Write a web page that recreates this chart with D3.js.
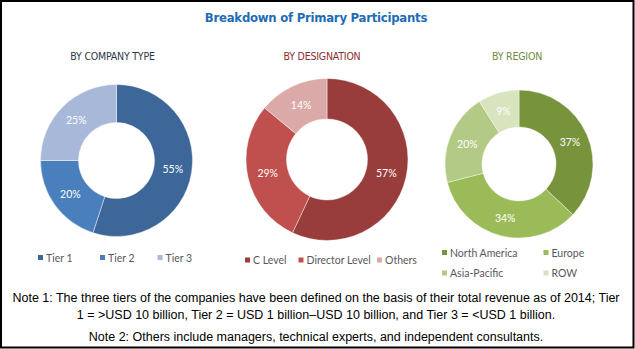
<!DOCTYPE html>
<html>
<head>
<meta charset="utf-8">
<script src="https://cdn.jsdelivr.net/npm/d3@7"></script>
<style>
  html,body{margin:0;padding:0;background:#fff;}
  svg{display:block;}
  .pct{font-family:Lato,"Open Sans",sans-serif;font-size:10.5px;fill:#fff;}
  .leg{font-family:Lato,"Open Sans",sans-serif;font-size:10.5px;fill:#595959;}
  .sub{font-family:"DejaVu Sans Condensed",sans-serif;font-size:10.5px;letter-spacing:-0.2px;}
  .note{font-family:"Liberation Sans",Arial,sans-serif;font-size:12.5px;fill:#000;}
</style>
</head>
<body>
<div id="chart"></div>
<script>
// shares of primary interviews, in percent
const companyTypes = ['Tier 1','Tier 2','Tier 3'];
const companyShares = [55,20,25];
const designations = ['C Level','Director Level','Others'];
const designationShares = [57,29,14];
const regions = ['North America','Europe','Asia-Pacific','ROW'];
const regionShares = [37,34,20,9];

const title = 'Breakdown of Primary Participants';
const notes = [
  'Note 1: The three tiers of the companies have been defined on the basis of their total revenue as of 2014; Tier',
  '1 = >USD 10 billion, Tier 2 = USD 1 billion\u2013USD 10 billion, and Tier 3 = <USD 1 billion.',
  'Note 2: Others include managers, technical experts, and independent consultants.'
];

const W=635,H=349;
const svg=d3.select('#chart').append('svg').attr('width',W).attr('height',H);

svg.append('rect').attr('x',1).attr('y',1).attr('width',W-2.5).attr('height',H-2.5)
  .attr('fill','#fff').attr('stroke','#000').attr('stroke-width',2);

svg.append('text').attr('x',316).attr('y',17).attr('text-anchor','middle').attr('dominant-baseline','central')
  .style('font-family','"DejaVu Sans Condensed",sans-serif').style('letter-spacing','-0.25px')
  .style('font-weight','bold').style('font-size','13px').attr('fill','#1f6cb6').text(title);

const panels=[
  {name:'BY COMPANY TYPE', color:'#2e3747', labels:companyTypes, values:companyShares,
   colors:['#3e6799','#4a7fbd','#a7b8d8'], cx:116.5, cy:160.5, r:76, tx:112.5,
   legX:[38,100,157.5], legY:[257.5], cols:3},
  {name:'BY DESIGNATION', color:'#8c2d2d', labels:designations, values:designationShares,
   colors:['#983d3b','#c0504d','#dba9a8'], cx:327, cy:159.5, r:81, tx:322,
   legX:[245,298.5,377], legY:[260], cols:3},
  {name:'BY REGION', color:'#6f8a3d', labels:regions, values:regionShares,
   colors:['#77933c','#9bbb59','#b2ca85','#d7e4bd'], cx:519, cy:164, r:74, tx:517,
   legX:[442,543.5], legY:[252.5,273], cols:2}
];

const pie=d3.pie().sort(null).value(d=>d);

panels.forEach(p=>{
  svg.append('text').attr('class','sub').attr('x',p.tx).attr('y',56)
    .attr('text-anchor','middle').attr('dominant-baseline','central')
    .attr('fill',p.color).text(p.name);

  const color=d3.scaleOrdinal().domain(p.labels).range(p.colors);
  const arc=d3.arc().innerRadius(p.r*0.5).outerRadius(p.r);
  const mid=d3.arc().innerRadius(p.r*0.75).outerRadius(p.r*0.75);
  const g=svg.append('g').attr('transform',`translate(${p.cx},${p.cy})`);
  const arcs=pie(p.values);

  g.selectAll('path').data(arcs).join('path')
    .attr('d',arc).attr('fill',(d,i)=>color(p.labels[i]))
    .attr('stroke','#fff').attr('stroke-width',0.6).attr('stroke-opacity',0.7);

  g.selectAll('text').data(arcs).join('text').attr('class','pct')
    .attr('transform',d=>`translate(${mid.centroid(d)})`)
    .attr('text-anchor','middle').attr('dominant-baseline','central')
    .text(d=>d.data+'%');

  // legend, laid out in rows of p.cols items
  const leg=svg.append('g');
  p.labels.forEach((lab,i)=>{
    const x=p.legX[i%p.cols], y=p.legY[Math.floor(i/p.cols)];
    leg.append('rect').attr('x',x).attr('y',y-2.5).attr('width',5).attr('height',5).attr('fill',color(lab));
    leg.append('text').attr('class','leg').attr('x',x+8).attr('y',y)
      .attr('dominant-baseline','central').text(lab);
  });
});

const ny=[298,315,337];
notes.forEach((t,i)=>{
  svg.append('text').attr('class','note').attr('x',316).attr('y',ny[i])
    .attr('text-anchor','middle').attr('dominant-baseline','central').text(t);
});
</script>
</body>
</html>
